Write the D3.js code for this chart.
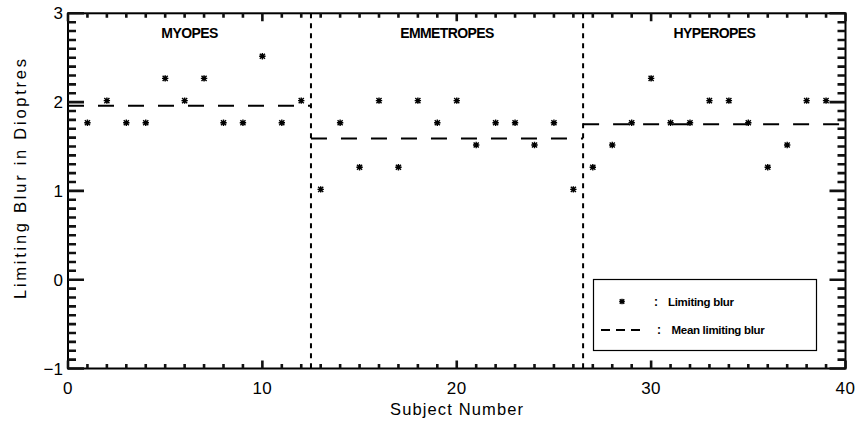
<!DOCTYPE html>
<html><head><meta charset="utf-8">
<script src="https://cdn.jsdelivr.net/npm/d3@7/dist/d3.min.js"></script>
<style>body{margin:0;background:#fff;} svg{display:block;}</style>
</head><body><svg id="c" width="858" height="421"></svg>
<script>
const subjects = [1,2,3,4,5,6,7,8,9,10,11,12,13,14,15,16,17,18,19,20,21,22,23,24,25,26,27,28,29,30,31,32,33,34,35,36,37,38,39];
const blur = [1.75,2.0,1.75,1.75,2.25,2.0,2.25,1.75,1.75,2.5,1.75,2.0,
              1.0,1.75,1.25,2.0,1.25,2.0,1.75,2.0,1.5,1.75,1.75,1.5,1.75,1.0,
              1.25,1.5,1.75,2.25,1.75,1.75,2.0,2.0,1.75,1.25,1.5,2.0,2.0];
const groupNames = ["MYOPES","EMMETROPES","HYPEROPES"];
const groupStart = [0,12.5,26.5];
const groupEnd = [12.5,26.5,40];
const groupMean = [1.958,1.589,1.75];
const dividers = [12.5,26.5];
const xTicks = [0,10,20,30,40];
const yTicks = [-1,0,1,2,3];
const xMinorTicks = d3.range(0,41,1);
const yMinorTicks = d3.range(-10,31,1).map(d=>d/10);

const svg = d3.select("#c");
const L=68, R=845.5, T=13.3, B=368.5;
const x = d3.scaleLinear().domain([0,40]).range([L,R]);
const y = d3.scaleLinear().domain([-1,3]).range([B,T]);
const font = "'Liberation Sans', Arial, sans-serif";

svg.append("rect").attr("x",L).attr("y",T).attr("width",R-L).attr("height",B-T)
  .attr("fill","none").attr("stroke","#000").attr("stroke-width",2);

// inward tick marks on all four sides, positioned through the scales
const isMajX = v => xTicks.includes(v);
const isMajY = v => yTicks.some(t=>Math.abs(t-v)<1e-9);
let td = "";
xMinorTicks.forEach(v=>{ const l=isMajX(v)?8:4.5; td+=`M${x(v)},${B}V${B-l}M${x(v)},${T}V${T+l}`; });
yMinorTicks.forEach(v=>{ const l=isMajY(v)?16:8; td+=`M${L},${y(v)}H${L+l}M${R},${y(v)}H${R-l}`; });
svg.append("path").attr("d",td).attr("stroke","#111").attr("stroke-width",2.6).attr("fill","none");

// tick labels
svg.selectAll("text.xl").data(xTicks).join("text").attr("class","xl").attr("x",d=>x(d)).attr("y",B+25)
  .attr("text-anchor","middle").attr("font-family",font).attr("font-size",17).attr("letter-spacing",0.5).text(d=>d);
svg.selectAll("text.ylab").data(yTicks).join("text").attr("class","ylab").attr("x",L-5).attr("y",d=>y(d)+6)
  .attr("text-anchor","end").attr("font-family",font).attr("font-size",17).text(d=>d<0?"\u2212"+Math.abs(d):d);

svg.append("text").attr("x",456.5).attr("y",415).attr("text-anchor","middle")
  .attr("font-family",font).attr("font-size",16.5).attr("font-weight","500")
  .attr("textLength",133).attr("lengthAdjust","spacing").text("Subject Number");
svg.append("text").attr("transform","translate(26,179) rotate(-90)").attr("text-anchor","middle")
  .attr("font-family",font).attr("font-size",16.5).attr("font-weight","500")
  .attr("textLength",240).attr("lengthAdjust","spacing").text("Limiting Blur in Dioptres");

// dividers
svg.selectAll("line.div").data(dividers).join("line").attr("class","div").attr("x1",d=>x(d)).attr("x2",d=>x(d))
  .attr("y1",T).attr("y2",B).attr("stroke","#000").attr("stroke-width",2).attr("stroke-dasharray","5,5");

// means
svg.selectAll("line.mean").data(groupMean).join("line").attr("class","mean")
  .attr("x1",(d,i)=>x(groupStart[i])).attr("x2",(d,i)=>x(groupEnd[i]))
  .attr("y1",d=>y(d)).attr("y2",d=>y(d)).attr("stroke","#000").attr("stroke-width",2).attr("stroke-dasharray","16,14");

// group titles
svg.selectAll("text.gt").data(groupNames).join("text").attr("class","gt")
  .attr("x",(d,i)=>x((groupStart[i]+groupEnd[i])/2)).attr("y",38).attr("text-anchor","middle")
  .attr("font-family",font).attr("font-size",14).attr("font-weight","bold").attr("letter-spacing",-0.6).text(d=>d);

// asterisks
function star(g,cx,cy,r){
  const p=`M${cx-r},${cy}L${cx+r},${cy}M${cx},${cy-r}L${cx},${cy+r}M${cx-r*0.8},${cy-r*0.8}L${cx+r*0.8},${cy+r*0.8}M${cx-r*0.8},${cy+r*0.8}L${cx+r*0.8},${cy-r*0.8}`;
  g.append("path").attr("d",p).attr("stroke","#000").attr("stroke-width",1.4).attr("fill","none");
}
const pg = svg.append("g");
subjects.forEach((s,i)=>star(pg,x(s),y(blur[i])-1.5,3.2));

// legend
const lg = svg.append("g");
lg.append("rect").attr("x",593.5).attr("y",279.5).attr("width",223).attr("height",71)
  .attr("fill","#fff").attr("stroke","#000").attr("stroke-width",1.2);
star(lg,622,301.5,2.8);
lg.append("text").attr("x",654).attr("y",306).attr("font-family",font).attr("font-size",12).attr("font-weight","bold").text(":");
lg.append("text").attr("x",668).attr("y",306).attr("font-family",font).attr("font-size",11.5).attr("font-weight","bold").attr("letter-spacing",-0.3).text("Limiting blur");
lg.append("line").attr("x1",601).attr("x2",640).attr("y1",330).attr("y2",330).attr("stroke","#000").attr("stroke-width",2).attr("stroke-dasharray","9,6");
lg.append("text").attr("x",657).attr("y",334).attr("font-family",font).attr("font-size",12).attr("font-weight","bold").text(":");
lg.append("text").attr("x",671.5).attr("y",334).attr("font-family",font).attr("font-size",11.5).attr("font-weight","bold").attr("letter-spacing",-0.3).text("Mean limiting blur");
</script></body></html>
